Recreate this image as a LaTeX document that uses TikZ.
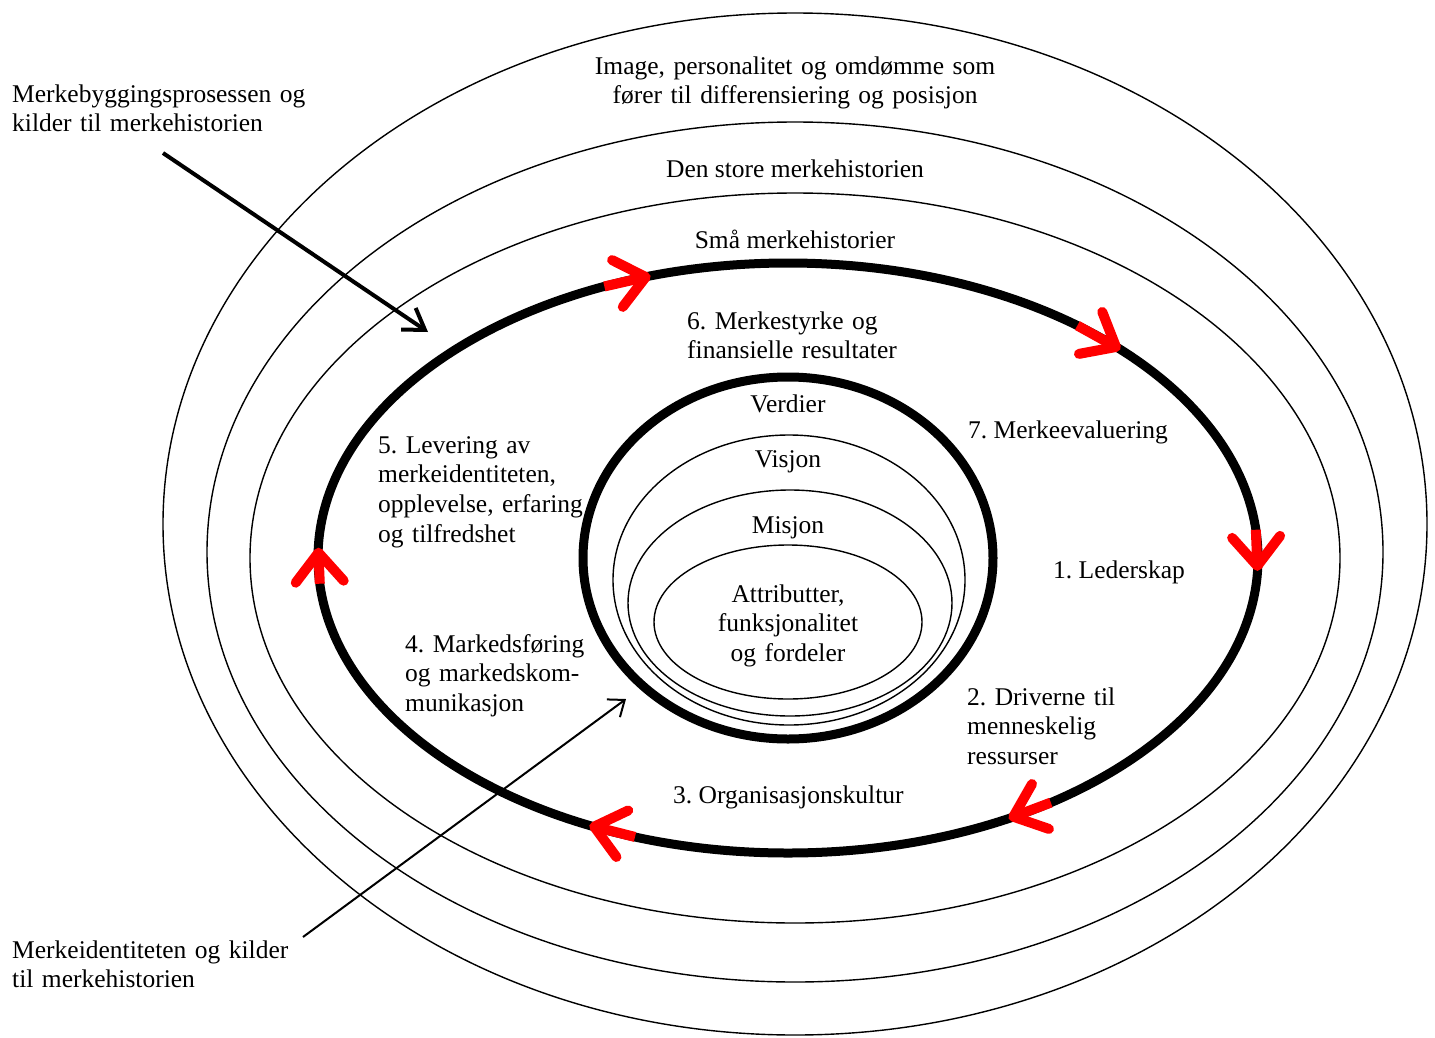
\documentclass[tikz,border=0pt]{standalone}
\usepackage{fontspec}
\setmainfont{Liberation Serif}
\usetikzlibrary{arrows.meta}
\begin{document}
\begin{tikzpicture}[x=1pt,y=-1pt,
  ring/.style={draw=black, line width=1.4pt},
  boldring/.style={draw=black, line width=9pt},
  lbl/.style={inner sep=0pt, font=\fontsize{25.5}{29.7}\selectfont\frenchspacing, text=black},
  lblL/.style={lbl, anchor=base west, align=left},
  lblC/.style={lbl, anchor=base, align=center},
  flow/.style={draw=red, line width=10pt,
    -{Straight Barb[length=29pt, width=48pt, round]}},
  pointer/.style={draw=black, line width=4pt,
    -{Straight Barb[length=20pt, width=26pt]}},
  pointerthin/.style={draw=black, line width=2pt,
    -{Straight Barb[length=14pt, width=22pt]}}
]
\fill[white] (0,0) rectangle (1435,1037);
\useasboundingbox (0,0) rectangle (1435,1037);

% outer story rings
\draw[ring] (795,524) ellipse [x radius=632pt, y radius=511pt];
\draw[ring] (795,552) ellipse [x radius=588pt, y radius=430pt];
\draw[ring] (795,558) ellipse [x radius=545pt, y radius=365pt];

% brand building process cycle
\draw[boldring] (788,558) ellipse [x radius=470pt, y radius=295pt];

% brand identity core
\draw[boldring] (788,558) ellipse [x radius=205pt, y radius=181pt];
\draw[ring] (789,580) ellipse [x radius=176pt, y radius=145pt];
\draw[ring] (790,603) ellipse [x radius=162pt, y radius=113pt];
\draw[ring] (788,622) ellipse [x radius=134pt, y radius=77pt];

% direction markers on the cycle (clockwise)
\foreach \a/\b [count=\i] in {-113/-107, -52/-45, -5.5/2.5, 56/62, 109/115, 175/182}{
  \coordinate (f\i s) at ({788+470*cos(\a)},{558+295*sin(\a)});
  \coordinate (f\i e) at ({788+470*cos(\b)},{558+295*sin(\b)});
  \draw[flow] (f\i s) -- (f\i e);
}

% ring labels
\node[lblC, text width=520pt] (img) at (795,74)
  {Image, personalitet og omdømme som\\fører til differensiering og posisjon};
\node[lblC] (big) at (795,177) {Den store merkehistorien};
\node[lblC] (small) at (795,248) {Små merkehistorier};

% process steps
\node[lblL, text width=260pt] (s6) at (687,329) {6. Merkestyrke og\\finansielle resultater};
\node[lblL] (s7) at (968,438) {7. Merkeevaluering};
\node[lblL] (s1) at (1053,578) {1. Lederskap};
\node[lblL, text width=200pt] (s2) at (967,705) {2. Driverne til\\menneskelig\\ressurser};
\node[lblL] (s3) at (673,803) {3. Organisasjonskultur};
\node[lblL, text width=220pt] (s4) at (405,652) {4. Markedsføring\\og markedskom-\\munikasjon};
\node[lblL, text width=240pt] (s5) at (378,453) {5. Levering av\\merkeidentiteten,\\opplevelse, erfaring\\og tilfredshet};

% identity core labels
\node[lblC] (val) at (788,412) {Verdier};
\node[lblC] (vis) at (788,467) {Visjon};
\node[lblC] (mis) at (788,533) {Misjon};
\node[lblC, text width=240pt] (attr) at (788,602) {Attributter,\\funksjonalitet\\og fordeler};

% side captions with pointers
\node[lblL, text width=330pt] (proc) at (12,102) {Merkebyggingsprosessen og\\kilder til merkehistorien};
\node[lblL, text width=330pt] (ident) at (12,958) {Merkeidentiteten og kilder\\til merkehistorien};
\coordinate (procA) at (163,153);
\coordinate (procB) at (428,332);
\coordinate (identA) at (303,937);
\coordinate (identB) at (626,699);
\draw[pointer] (procA) -- (procB);
\draw[pointerthin] (identA) -- (identB);
\end{tikzpicture}
\end{document}
